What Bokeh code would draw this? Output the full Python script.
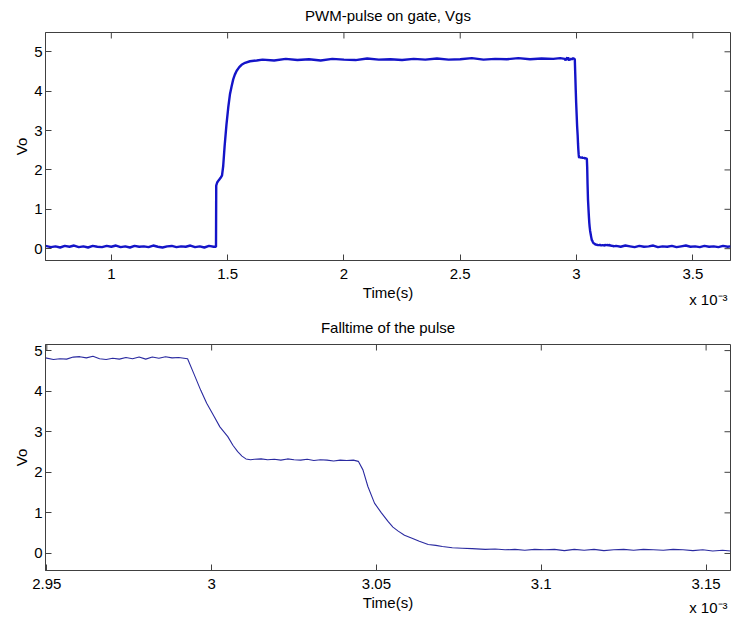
import math
from bokeh.plotting import figure
from bokeh.layouts import column
from bokeh.models import Range1d, FixedTicker, Title
from bokeh.embed import file_html
from bokeh.resources import INLINE

# ---------------- data (time in units of 1e-3 s, voltage in V) ----------------
t_low1 = [0.717, 0.74, 0.76, 0.78, 0.80, 0.82, 0.84, 0.86, 0.88, 0.90, 0.92, 0.94,
          0.96, 0.98, 1.00, 1.02, 1.04, 1.06, 1.08, 1.10, 1.12, 1.14, 1.16, 1.18,
          1.20, 1.22, 1.24, 1.26, 1.28, 1.30, 1.32, 1.34, 1.36, 1.38, 1.40, 1.42,
          1.44, 1.449]
v_low1 = [0.07, 0.04, 0.06, 0.03, 0.07, 0.05, 0.08, 0.04, 0.06, 0.03, 0.07, 0.05,
          0.04, 0.07, 0.05, 0.08, 0.04, 0.06, 0.03, 0.07, 0.05, 0.06, 0.04, 0.08,
          0.05, 0.03, 0.06, 0.07, 0.04, 0.06, 0.05, 0.08, 0.04, 0.06, 0.03, 0.07,
          0.05, 0.05]

t_rise = [1.450, 1.451, 1.455, 1.462, 1.470, 1.476, 1.481, 1.487, 1.495, 1.503,
          1.510, 1.517, 1.524, 1.531, 1.539, 1.550, 1.560, 1.575, 1.596, 1.625]
v_rise = [0.05, 1.60, 1.68, 1.74, 1.80, 1.86, 2.10, 2.60, 3.15, 3.60,
          3.92, 4.12, 4.30, 4.42, 4.52, 4.61, 4.67, 4.72, 4.76, 4.78]

t_high = [1.65, 1.70, 1.75, 1.80, 1.85, 1.90, 1.95, 2.00, 2.05, 2.10, 2.15, 2.20,
          2.25, 2.30, 2.35, 2.40, 2.45, 2.50, 2.55, 2.60, 2.65, 2.70, 2.75, 2.80,
          2.85, 2.90, 2.93]
v_high = [4.80, 4.78, 4.82, 4.79, 4.81, 4.78, 4.82, 4.80, 4.79, 4.83, 4.80, 4.81,
          4.79, 4.82, 4.80, 4.83, 4.80, 4.81, 4.84, 4.80, 4.82, 4.81, 4.84, 4.81,
          4.83, 4.82, 4.84]

t_fall = [2.9496, 2.952, 2.954, 2.956, 2.958, 2.960, 2.962, 2.964, 2.966, 2.968,
          2.970, 2.972, 2.974, 2.976, 2.978, 2.980, 2.982, 2.984, 2.986, 2.988,
          2.990, 2.9927, 2.9945, 2.9967, 2.9985, 3.0008, 3.0025, 3.0049, 3.0065,
          3.0079, 3.0092, 3.0104, 3.0118, 3.013, 3.015, 3.017, 3.019, 3.021, 3.023,
          3.025, 3.027, 3.029, 3.031, 3.033, 3.035, 3.037, 3.039, 3.041, 3.043,
          3.0445, 3.0459, 3.0474, 3.0494, 3.0515, 3.0535, 3.055, 3.0566, 3.0585,
          3.0606, 3.063, 3.0657, 3.068, 3.070, 3.073, 3.076, 3.079, 3.083, 3.086,
          3.089, 3.092, 3.095, 3.098, 3.101, 3.104, 3.107, 3.110, 3.113, 3.116,
          3.119, 3.122, 3.125, 3.128, 3.131, 3.134, 3.137, 3.140, 3.143, 3.146,
          3.149, 3.152, 3.155, 3.1574]
v_fall = [4.82, 4.78, 4.80, 4.79, 4.84, 4.85, 4.82, 4.86, 4.80, 4.78,
          4.81, 4.79, 4.83, 4.80, 4.84, 4.79, 4.84, 4.81, 4.85, 4.82,
          4.83, 4.80, 4.45, 4.02, 3.70, 3.37, 3.12, 2.88, 2.66,
          2.51, 2.40, 2.33, 2.31, 2.32, 2.33, 2.31, 2.32, 2.30, 2.33,
          2.31, 2.30, 2.32, 2.29, 2.31, 2.30, 2.28, 2.30, 2.29, 2.30,
          2.27, 2.06, 1.65, 1.24, 1.00, 0.79, 0.65, 0.55, 0.45,
          0.38, 0.30, 0.22, 0.20, 0.17, 0.14, 0.13, 0.12, 0.10, 0.11,
          0.09, 0.10, 0.08, 0.10, 0.09, 0.10, 0.07, 0.10, 0.08, 0.10,
          0.07, 0.09, 0.10, 0.08, 0.10, 0.09, 0.08, 0.10, 0.09, 0.07,
          0.09, 0.06, 0.08, 0.06]

t_low2 = [3.17, 3.19, 3.21, 3.23, 3.25, 3.27, 3.29, 3.31, 3.33, 3.35, 3.37, 3.39,
          3.41, 3.43, 3.45, 3.47, 3.49, 3.51, 3.53, 3.55, 3.57, 3.59, 3.61, 3.63,
          3.65, 3.662]
v_low2 = [0.07, 0.05, 0.08, 0.06, 0.04, 0.07, 0.05, 0.06, 0.08, 0.04, 0.06, 0.05,
          0.07, 0.04, 0.06, 0.08, 0.05, 0.06, 0.04, 0.07, 0.05, 0.06, 0.04, 0.07,
          0.05, 0.06]

top_xticks = [1.0, 1.5, 2.0, 2.5, 3.0, 3.5]
top_xlabels = ["1", "1.5", "2", "2.5", "3", "3.5"]
bot_xticks = [2.95, 3.0, 3.05, 3.1, 3.15]
bot_xlabels = ["2.95", "3", "3.05", "3.1", "3.15"]
yticks = [0, 1, 2, 3, 4, 5]

top_title = "PWM-pulse on gate, Vgs"
bot_title = "Falltime of the pulse"
x_label = "Time(s)"
y_label = "Vo"
scale_note = "x 10\u207b\u00b3"

FONT = "Liberation Sans"
AXC = "#404040"


def make_fig(title, xr, yr, xticks, xlabels, height, top, bottom, note_standoff):
    p = figure(width=731, height=height, output_backend="svg", toolbar_location=None,
               x_range=Range1d(*xr), y_range=Range1d(*yr),
               min_border_left=45, min_border_right=1,
               min_border_top=top, min_border_bottom=bottom)
    p.title = Title(text=title, align="center", vertical_align="top", standoff=13,
                    text_font=FONT, text_font_size="15px", text_font_style="normal",
                    text_color="black")
    p.xgrid.visible = False
    p.ygrid.visible = False
    p.outline_line_color = AXC
    p.outline_line_alpha = 1.0
    p.background_fill_color = "white"
    p.border_fill_color = "white"

    xa = p.xaxis[0]
    xa.ticker = FixedTicker(ticks=xticks)
    xa.major_label_overrides = {t: l for t, l in zip(xticks, xlabels)}
    xa.axis_label = x_label
    ya = p.yaxis[0]
    ya.ticker = FixedTicker(ticks=yticks)
    ya.axis_label = y_label
    for ax in (xa, ya):
        ax.axis_line_color = AXC
        ax.major_tick_line_color = AXC
        ax.major_tick_in = 6
        ax.major_tick_out = 0
        ax.minor_tick_line_color = None
        ax.major_label_text_font = FONT
        ax.major_label_text_font_size = "15px"
        ax.major_label_text_color = "black"
        ax.axis_label_text_font = FONT
        ax.axis_label_text_font_size = "15px"
        ax.axis_label_text_font_style = "normal"
        ax.axis_label_text_color = "black"
    xa.major_label_standoff = 8
    xa.axis_label_standoff = 2
    ya.major_label_standoff = 3
    ya.axis_label_standoff = 1

    # mirrored inward ticks on the top and right edges of the box
    p.ray(x=xticks, y=[yr[1]] * len(xticks), length=6, length_units="screen",
          angle=-math.pi / 2, line_color=AXC, line_width=1)
    p.ray(x=[xr[1]] * len(yticks), y=yticks, length=6, length_units="screen",
          angle=math.pi, line_color=AXC, line_width=1)

    # the "x 10^-3" multiplier under the right end of the x axis
    note = Title(text=scale_note, align="right", vertical_align="top", text_font=FONT,
                 text_font_size="15px", text_font_style="normal",
                 text_color="black", standoff=note_standoff, offset=3)
    p.add_layout(note, "below")
    return p


# top plot: whole pulse
t_all = t_low1 + t_rise + t_high + t_fall + t_low2
v_all = v_low1 + v_rise + v_high + v_fall + v_low2

p1 = make_fig(top_title, (0.717, 3.662), (-0.30, 5.49), top_xticks, top_xlabels,
              height=310, top=32, bottom=50, note_standoff=-26)
p1.line(t_all, v_all, line_color="#1414c8", line_width=2.4)

# bottom plot: fall time detail
p2 = make_fig(bot_title, (2.9496, 3.1574), (-0.42, 5.15), bot_xticks, bot_xlabels,
              height=307, top=34, bottom=47, note_standoff=-30)
p2.line(t_fall, v_fall, line_color="#2a2aa0", line_width=1.1)

layout = column(p1, p2, spacing=0)

with open("out.html", "w") as f:
    f.write(file_html(layout, INLINE))
